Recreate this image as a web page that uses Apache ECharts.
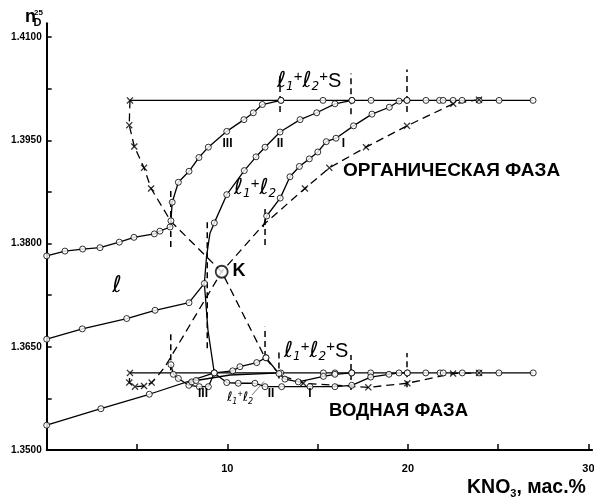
<!DOCTYPE html>
<html><head><meta charset="utf-8">
<script src="https://cdn.jsdelivr.net/npm/echarts@6/dist/echarts.min.js"></script>
<style>html,body{margin:0;padding:0;background:#fff}#c{width:594px;height:497px}</style>
</head><body><div id="c"></div>
<script>
// ---- axis ticks / labels ----
const xTicks = [5, 10, 15, 20, 25, 30];
const xLabels = [10, 20, 30];
const yTicks = [1.3500, 1.3575, 1.3650, 1.3725, 1.3800, 1.3875, 1.3950, 1.4025, 1.4100];
const yLabels = [1.3500, 1.3650, 1.3800, 1.3950, 1.4100];

// ---- organic phase ----
const orgTieStart = [4.61, 1.4008];
const orgTiePts = [[12.97,1.4008],[15.30,1.4008],[16.90,1.4008],[17.96,1.4008],[19.95,1.4008],[21.00,1.4008],[21.75,1.4008],[21.95,1.4008],[22.50,1.4008],[23.00,1.4008],[23.94,1.4008],[25.05,1.4008],[26.93,1.4008]];
const orgUpperL = [[0,1.3782],[1.01,1.3789],[1.99,1.3792],[2.95,1.3794],[4.02,1.3802],[4.83,1.3809],[5.96,1.3814],[6.27,1.3818],[6.83,1.3824],[6.88,1.3833]];
const orgIII = [[6.95,1.3860],[7.29,1.3889],[7.88,1.3905],[8.43,1.3925],[8.95,1.3940],[9.97,1.3963],[10.92,1.3980],[11.44,1.3990],[11.94,1.4002],[12.97,1.4008]];
const orgLowerL = [[0,1.3661],[1.97,1.3676],[4.43,1.3691],[6.00,1.3703],[7.88,1.3714],[8.73,1.3742]];
const orgIIBend = [[8.85,1.3781],[9.04,1.3815]];
const orgII = [[9.28,1.3830],[9.97,1.3871],[10.94,1.3906],[11.59,1.3926],[12.09,1.3940],[12.92,1.3962],[14.03,1.3980],[14.95,1.3990],[15.96,1.4003],[16.90,1.4008]];
const orgIStart = [11.98, 1.3824];
const orgI = [[12.18,1.3840],[12.93,1.3866],[13.47,1.3897],[13.99,1.3912],[14.54,1.3923],[15.01,1.3933],[15.48,1.3948],[16.02,1.3953],[16.99,1.3971],[18.01,1.3988],[18.97,1.3998],[19.51,1.4007],[19.95,1.4008]];
const tieSteep = [[8.73,1.3742],[8.93,1.3674],[9.28,1.3612]];

// ---- binodal (dashed) curves through K ----
const pointK = [9.69, 1.3759];
const dashA = [[4.61,1.4008],[4.57,1.3972],[4.85,1.3941],[5.39,1.3910],[5.78,1.3880],[6.88,1.3832],[9.69,1.3759],[12.09,1.3634],[12.92,1.3609],[14.21,1.3597],[17.81,1.3591],[19.97,1.3597],[22.50,1.3611],[23.94,1.3612]];
const dashB = [[23.94,1.4009],[22.51,1.4003],[19.95,1.3971],[17.68,1.3940],[15.65,1.3910],[14.30,1.3880],[11.99,1.3827],[9.69,1.3759],[6.55,1.3621],[6.16,1.3608],[5.81,1.3598],[5.39,1.3593],[4.89,1.3592],[4.57,1.3598],[4.61,1.3612]];
const crossPts = [[4.61,1.4008],[4.57,1.3972],[4.85,1.3941],[5.39,1.3910],[5.78,1.3880],
  [23.94,1.4009],[22.51,1.4003],[19.95,1.3971],[17.68,1.3940],[15.65,1.3910],[14.30,1.3880],
  [14.21,1.3597],[17.81,1.3591],[19.97,1.3597],[22.50,1.3611],[23.94,1.3612],
  [5.81,1.3598],[5.39,1.3593],[4.89,1.3592],[4.57,1.3598],[4.61,1.3612]];

// ---- aqueous phase ----
const watTieStart = [4.61, 1.3612];
const watTiePts = [[12.96,1.3612],[15.32,1.3612],[15.96,1.3612],[16.89,1.3612],[17.94,1.3612],[19.97,1.3612],[20.99,1.3612],[21.78,1.3612],[21.96,1.3612],[23.01,1.3612],[23.94,1.3612],[25.04,1.3612],[26.94,1.3612]];
const watLow = [[0,1.3536],[3.00,1.3560],[5.68,1.3581],[9.28,1.3612],[10.30,1.3615],[10.70,1.3621],[11.63,1.3627],[12.14,1.3634]];
const watIII = [[6.88,1.3624],[7.01,1.3610],[7.29,1.3604],[7.87,1.3594],[8.45,1.3592],[8.95,1.3592],[9.28,1.3612]];
const watIIIb = [[7.87,1.3594],[8.03,1.3599],[8.27,1.3601],[10.15,1.3609],[12.96,1.3612]];
const watII = [[12.14,1.3634],[12.86,1.3611],[13.19,1.3603],[13.93,1.3599],[15.32,1.3607],[15.96,1.3610],[16.89,1.3612]];
const watI = [[9.28,1.3612],[9.97,1.3598],[10.61,1.3597],[11.53,1.3597],[12.09,1.3592],[13.01,1.3592],[14.58,1.3592],[15.96,1.3592],[16.89,1.3594],[17.94,1.3606],[18.95,1.3610],[19.51,1.3612],[19.97,1.3612]];

// ---- phase boundary marks: [x, yFrom, yTo] ----
const orgBars = [[6.87,1.3795,1.3882],[8.89,1.3648,1.3831],[12.09,1.3798,1.3853],[12.92,1.3991,1.4044],[16.85,1.3988,1.4047],[19.95,1.3991,1.4053]];
const watBars = [[6.87,1.3616,1.3669],[12.09,1.3635,1.3679],[12.86,1.3604,1.3643],[16.85,1.3587,1.3638],[19.95,1.3591,1.3641]];

// ---------------------------------------------------------
const LS = 'Liberation Sans, Arial, sans-serif';
const DJ = 'DejaVu Sans';
const series = [];
function addLine(data, dash, width) {
  series.push({type:'line', data:data, symbol:'none', silent:true, animation:false, z:2,
    lineStyle:{color:'#000', width:width||1.3, type: dash ? dash : 'solid'}});
}
function addCircles(data) {
  series.push({type:'scatter', data:data, symbol:'circle', symbolSize:6, silent:true, animation:false, z:5,
    itemStyle:{color:'#fff', borderColor:'#000', borderWidth:1}});
}
const crossPath = 'path://M0,1.3L1.3,0L5,3.7L8.7,0L10,1.3L6.3,5L10,8.7L8.7,10L5,6.3L1.3,10L0,8.7L3.7,5Z';

addLine([orgTieStart].concat(orgTiePts));
addLine(orgUpperL.concat(orgIII));
addLine(orgLowerL.concat(orgIIBend, orgII));
addLine([orgIStart].concat(orgI));
addLine(tieSteep);
addLine(dashA, [8,5]);
addLine(dashB, [8,5]);
addLine([watTieStart].concat(watTiePts));
addLine(watLow);
addLine(watIII);
addLine(watIIIb);
addLine(watII);
addLine(watI);
orgBars.concat(watBars).forEach(function (b) { addLine([[b[0], b[1]], [b[0], b[2]]], [6,4], 1.5); });

addCircles(orgTiePts); addCircles(orgUpperL); addCircles(orgIII); addCircles(orgLowerL);
addCircles(orgII); addCircles(orgI);
addCircles(watTiePts); addCircles(watLow); addCircles(watIII); addCircles(watIIIb.slice(1, 3));
addCircles(watII); addCircles(watI);
series.push({type:'scatter', data:crossPts, symbol:crossPath, symbolSize:7, silent:true, animation:false, z:6,
  itemStyle:{color:'#000'}});
series.push({type:'scatter', data:[pointK], symbol:'circle', symbolSize:12, silent:true, animation:false, z:7,
  itemStyle:{color:'#fff', borderColor:'#000', borderWidth:1.8}});

// ---- text ----
const richL = {
  l:{fontFamily:DJ, fontStyle:'italic', fontSize:22, lineHeight:24, verticalAlign:'middle', fill:'#000'},
  s:{fontFamily:DJ, fontStyle:'italic', fontSize:12, lineHeight:12, verticalAlign:'bottom', fill:'#000'},
  p:{fontFamily:LS, fontSize:15, lineHeight:16, verticalAlign:'top', fill:'#000'},
  S:{fontFamily:LS, fontSize:20, lineHeight:24, verticalAlign:'middle', fill:'#000'}
};
const richSmall = {
  l:{fontFamily:DJ, fontStyle:'italic', fontSize:13, lineHeight:16, verticalAlign:'middle', fill:'#000'},
  s:{fontFamily:DJ, fontStyle:'italic', fontSize:8, lineHeight:8, verticalAlign:'bottom', fill:'#000'},
  p:{fontFamily:LS, fontSize:9, lineHeight:10, verticalAlign:'top', fill:'#000'}
};
function txt(x, y, text, st) {
  return {type:'text', x:x, y:y, z:100, silent:true,
    style:Object.assign({text:text, fill:'#000', align:'left', verticalAlign:'middle', fontFamily:LS}, st || {})};
}
const graphics = [
  txt(25, 17, 'n', {fontSize:18, fontWeight:'bold'}),
  txt(34, 12.5, '25', {fontSize:8, fontWeight:'bold'}),
  txt(33.5, 22.6, 'D', {fontSize:11, fontWeight:'bold'}),
  txt(277, 81, '{l|ℓ}{s|1}{p|+}{l|ℓ}{s|2}{p|+}{S|S}', {rich:richL}),
  txt(234, 188, '{l|ℓ}{s|1}{p|+}{l|ℓ}{s|2}', {rich:richL}),
  txt(227.5, 144, 'III', {fontSize:12, fontWeight:'bold', align:'center'}),
  txt(280, 144, 'II', {fontSize:12, fontWeight:'bold', align:'center'}),
  txt(343.5, 144, 'I', {fontSize:12, fontWeight:'bold', align:'center'}),
  txt(343, 171, 'ОРГАНИЧЕСКАЯ ФАЗА', {fontSize:19, fontWeight:'bold'}),
  txt(232.5, 271.5, 'K', {fontSize:18, fontWeight:'bold'}),
  txt(117, 286, 'ℓ', {fontFamily:DJ, fontStyle:'italic', fontSize:23, align:'center'}),
  txt(284, 351, '{l|ℓ}{s|1}{p|+}{l|ℓ}{s|2}{p|+}{S|S}', {rich:richL}),
  txt(203, 394, 'III', {fontSize:12, fontWeight:'bold', align:'center'}),
  txt(271, 394, 'II', {fontSize:12, fontWeight:'bold', align:'center'}),
  txt(310, 394, 'I', {fontSize:12, fontWeight:'bold', align:'center'}),
  txt(227, 398, '{l|ℓ}{s|1}{p|+}{l|ℓ}{s|2}', {rich:richSmall}),
  {type:'line', z:100, silent:true, shape:{x1:252, y1:395, x2:264, y2:381.5}, style:{stroke:'#555', lineWidth:0.8}},
  txt(329, 411, 'ВОДНАЯ ФАЗА', {fontSize:18.5, fontWeight:'bold'}),
  txt(467, 488, '{a|KNO}{b|3}{a|, мас.%}', {rich:{
    a:{fontFamily:LS, fontSize:19.5, fontWeight:'bold', lineHeight:22, verticalAlign:'middle', fill:'#000'},
    b:{fontFamily:LS, fontSize:11, fontWeight:'bold', lineHeight:11, verticalAlign:'bottom', fill:'#000'}}})
];

const chart = echarts.init(document.getElementById('c'), null, {renderer:'canvas'});
chart.setOption({
  animation:false,
  backgroundColor:'#fff',
  grid:{left:46.7, right:1.9, top:23.3, bottom:47, containLabel:false, outerBoundsMode:'none'},
  xAxis:{type:'value', min:0, max:30.2,
    axisLine:{lineStyle:{color:'#000', width:2}},
    axisTick:{inside:true, length:6, lineStyle:{color:'#000', width:1.5}, customValues:xTicks},
    axisLabel:{customValues:xLabels, margin:13, fontWeight:'bold', fontSize:11, color:'#000', fontFamily:LS},
    splitLine:{show:false}},
  yAxis:{type:'value', min:1.35, max:1.412,
    axisLine:{lineStyle:{color:'#000', width:2}},
    axisTick:{inside:true, length:5, lineStyle:{color:'#000', width:1.5}, customValues:yTicks},
    axisLabel:{customValues:yLabels, margin:5, fontWeight:'bold', fontSize:10, color:'#000', fontFamily:LS,
      formatter:function (v) { return Number(v).toFixed(4); }},
    splitLine:{show:false}},
  series:series,
  graphic:graphics
});
</script></body></html>
